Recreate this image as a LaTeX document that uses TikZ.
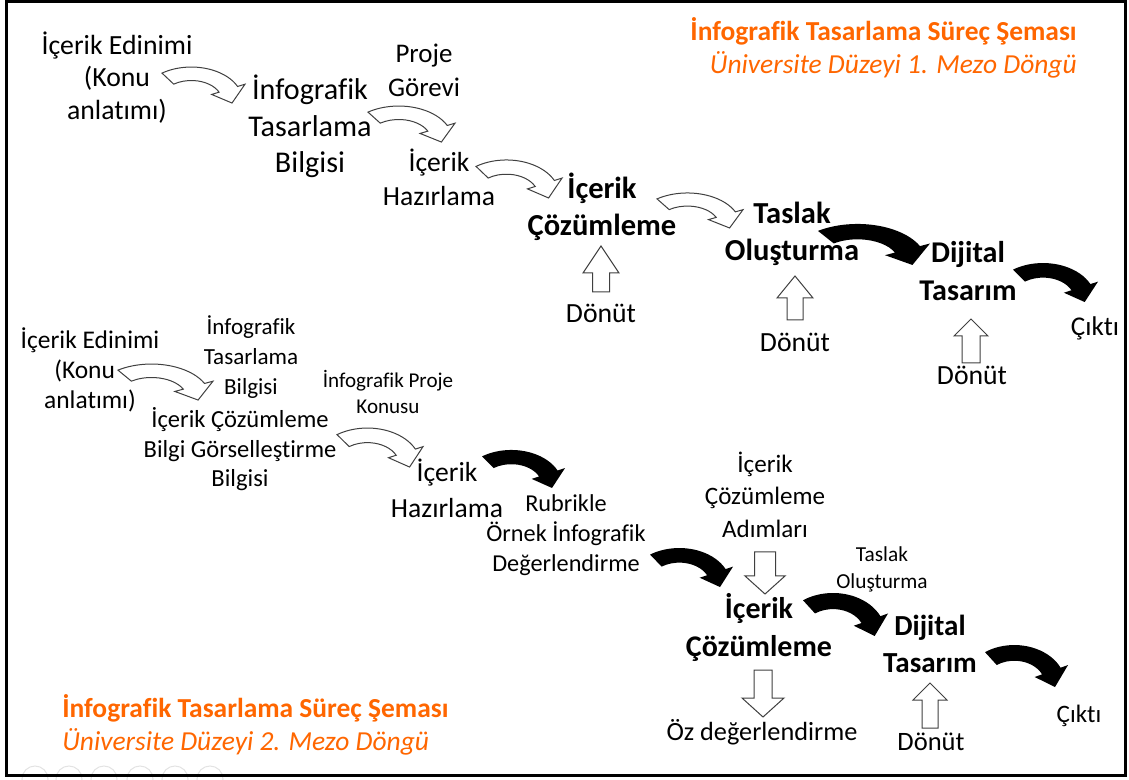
\documentclass[tikz,border=0pt]{standalone}
\usepackage{fontspec}
\setmainfont{Carlito}[Ligatures=CommonOff]
\definecolor{titleorange}{RGB}{255,102,0}
\newcommand{\fs}[2]{\fontsize{#1}{#2}\selectfont}
% curved block arrow: style, centre x, centre y, x radius, y radius
\newcommand{\curvedblock}[5]{%
  \path[#1, shift={(#2,#3)}, xscale=#4, yscale=-#5]
    (125:1.25) arc[start angle=125, end angle=25, radius=1.25]
    -- (25:1.45) -- (-5:1) -- (25:0.55) -- (25:0.75)
    arc[start angle=25, end angle=125, radius=0.75] -- cycle;}
% straight vertical block arrow: x, tail y, head base y, tip y, shaft half width, head half width
\newcommand{\vblock}[6]{%
  \path[whiteblock] ({#1-#5},#2) -- ({#1-#5},#3) -- ({#1-#6},#3) -- (#1,#4)
    -- ({#1+#6},#3) -- ({#1+#5},#3) -- ({#1+#5},#2) -- cycle;}
\tikzset{
  whiteblock/.style={draw=black!75, fill=white, line width=0.75pt, line join=miter},
  blackblock/.style={fill=black},
  lbl/.style={inner sep=0pt, align=center},
  ttl/.style={inner sep=0pt, text=titleorange, font=\bfseries\fs{20.6}{24.75}},
  subttl/.style={inner sep=0pt, text=titleorange, font=\itshape\fs{20.6}{24.75}},
}
\begin{document}
\begin{tikzpicture}[x=0.75pt, y=-0.75pt]
\useasboundingbox (0,0) rectangle (1129,780);

% faint slide-show controls below the frame
\begin{scope}
  \clip (0,760) rectangle (1129,780);
  \foreach \cx in {35,69,104,140,175,210}
    \draw[gray!22, line width=0.75pt] (\cx,779) circle[radius=13];
\end{scope}

% frame
\draw[line width=2.25pt] (6.5,2) rectangle (1125.5,775.5);

% ---------- first loop: curved arrows ----------
\curvedblock{whiteblock}{191.3}{100.7}{40.87}{26.93}
\curvedblock{whiteblock}{398.7}{139.7}{42.84}{26.93}
\curvedblock{whiteblock}{506.4}{195.5}{42.34}{28.42}
\curvedblock{whiteblock}{687.4}{225.7}{42.34}{26.18}
\curvedblock{blackblock}{857.5}{262.3}{55.15}{30.67}
\curvedblock{blackblock}{1043}{299.5}{41.85}{29.17}

% feedback arrows
\vblock{601}{292}{273}{246}{8.5}{18}
\vblock{795}{320}{298}{276}{8}{18}
\vblock{971}{363}{336}{319}{9}{17}

% ---------- second loop: curved arrows ----------
\curvedblock{whiteblock}{151.5}{397.7}{46.78}{26.93}
\curvedblock{whiteblock}{367.4}{464.5}{42.34}{29.17}
\curvedblock{blackblock}{511.3}{485.5}{40.87}{28.42}
\curvedblock{blackblock}{679.3}{584.5}{40.87}{29.17}
\curvedblock{blackblock}{833}{633.2}{41.85}{32.16}
\curvedblock{blackblock}{1014.3}{684.3}{40.87}{31.41}

% straight arrows
\vblock{765}{552}{576}{594}{10.5}{20}
\vblock{763}{670}{698}{717}{9}{21}
\vblock{930}{728}{700}{683}{8}{17}

% ---------- first loop: labels ----------
\node[lbl, font=\fs{20.8}{24.4}] (edinim1) at (117,77.5) {İçerik Edinimi\\(Konu\\anlatımı)};
\node[lbl, font=\fs{22.6}{27.4}] (bilgi1) at (310,126.5) {İnfografik\\Tasarlama\\Bilgisi};
\node[lbl, font=\fs{20.2}{25.5}] (gorev1) at (424,70) {Proje\\Görevi};
\node[lbl, font=\fs{20.7}{25.5}] (hazir1) at (439,177) {İçerik\\Hazırlama};
\node[lbl, font=\bfseries\fs{22.9}{27.75}] (cozum1) at (602,206.5) {İçerik\\Çözümleme};
\node[lbl, font=\bfseries\fs{22.9}{27.75}] (taslak1) at (792,233.5) {Taslak\\Oluşturma};
\node[lbl, font=\bfseries\fs{22.6}{28.5}] (dijital1) at (968,271) {Dijital\\Tasarım};
\node[lbl, font=\fs{20.8}{25}] (donut1a) at (601,313) {Dönüt};
\node[lbl, font=\fs{20.8}{25}] (donut1b) at (795,342) {Dönüt};
\node[lbl, font=\fs{20.8}{25}] (donut1c) at (972,375) {Dönüt};
\node[lbl, font=\fs{20.3}{25}] (cikti1) at (1095,328) {Çıktı};

\node[ttl, anchor=base east] (title1) at (1077,41) {İnfografik Tasarlama Süreç Şeması};
\node[subttl, anchor=base east] (subtitle1) at (1077,74) {Üniversite Düzeyi 1. Mezo Döngü};

% ---------- second loop: labels ----------
\node[lbl, font=\fs{19.1}{22.5}] (edinim2) at (90,369.5) {İçerik Edinimi\\(Konu\kern8pt\\anlatımı)};
\node[lbl, font=\fs{17.3}{22.5}] (bilgi2) at (251,357) {İnfografik\\Tasarlama\\Bilgisi};
\node[lbl, font=\fs{15.8}{19.5}] (konu2) at (388,391.5) {İnfografik Proje\\Konusu};
\node[lbl, font=\fs{18.4}{22.1}] (gorsel2) at (240,449.5) {İçerik Çözümleme\\Bilgi Görselleştirme\\Bilgisi};
\node[lbl, font=\fs{20.7}{27}] (hazir2) at (447,488) {İçerik\\Hazırlama};
\node[lbl, font=\fs{18.2}{22.5}] (rubrik2) at (566,535) {Rubrikle\\Örnek İnfografik\\Değerlendirme};
\node[lbl, font=\fs{18.8}{24.4}] (adim2) at (765,494.5) {İçerik\\Çözümleme\\Adımları};
\node[lbl, font=\fs{16}{19.9}] (taslak2) at (882,569.5) {Taslak\\Oluşturma};
\node[lbl, font=\bfseries\fs{22.5}{28.5}] (cozum2) at (759,627) {İçerik\\Çözümleme};
\node[lbl, font=\bfseries\fs{21.8}{27.75}] (dijital2) at (930,643.5) {Dijital\\Tasarım};
\node[lbl, font=\fs{19.7}{24}] (oz2) at (762,732) {Öz değerlendirme};
\node[lbl, font=\fs{19.9}{24}] (donut2) at (931,742) {Dönüt};
\node[lbl, font=\fs{18.8}{24}] (cikti2) at (1079,716) {Çıktı};

\node[ttl, anchor=base west] (title2) at (62,717) {İnfografik Tasarlama Süreç Şeması};
\node[subttl, anchor=base west] (subtitle2) at (62,750) {Üniversite Düzeyi 2. Mezo Döngü};
\end{tikzpicture}
\end{document}
